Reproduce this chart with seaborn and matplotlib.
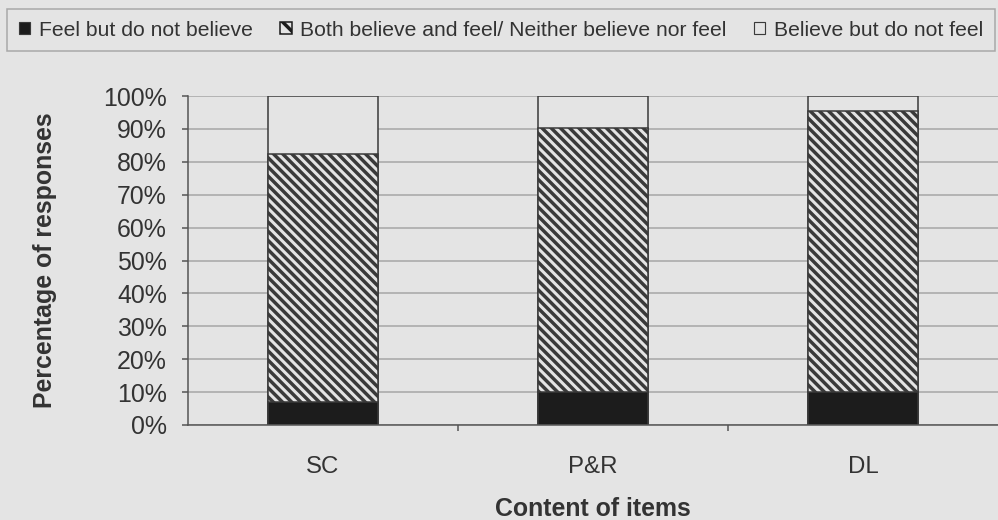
"""Stacked 100% bars: belief vs feeling responses per item content."""

import matplotlib

matplotlib.use("Agg")
import matplotlib.pyplot as plt
import pandas as pd
import seaborn as sns
from matplotlib.patches import Patch
from matplotlib.ticker import FixedLocator, FuncFormatter

CATEGORIES = ["SC", "P&R", "DL"]
FEEL_NOT_BELIEVE = [7.0, 10.0, 10.0]
BOTH_OR_NEITHER = [75.5, 80.3, 85.5]
BELIEVE_NOT_FEEL = [17.5, 9.7, 4.5]
SERIES_LABELS = [
    "Feel but do not believe",
    "Both believe and feel/ Neither believe nor feel",
    "Believe but do not feel",
]

BG = "#e4e4e4"
DARK = "#1c1c1c"
EDGE = "#3a3a3a"
DPI = 138
HATCH = "\\" * 5  # dense back-diagonal, close to the original's spacing

sns.set_style(
    "whitegrid",
    rc={
        "axes.facecolor": BG,
        "figure.facecolor": BG,
        "grid.color": "#a6a6a6",
        "grid.linewidth": 0.7,
        "axes.edgecolor": "#555555",
    },
)
plt.rcParams["font.family"] = ["Liberation Sans", "DejaVu Sans"]
plt.rcParams["hatch.linewidth"] = 1.8
plt.rcParams["hatch.color"] = DARK

df = pd.DataFrame(
    {
        "content": CATEGORIES,
        "feel": FEEL_NOT_BELIEVE,
        "both": BOTH_OR_NEITHER,
        "believe": BELIEVE_NOT_FEEL,
    }
)
# draw cumulative totals back to front so each layer hides the one behind
df["cum_both"] = df["feel"] + df["both"]
df["cum_all"] = df["cum_both"] + df["believe"]

fig, ax = plt.subplots(figsize=(998 / DPI, 520 / DPI), dpi=DPI)
fig.subplots_adjust(left=188 / 998, right=1.0, bottom=1 - 425 / 520, top=1 - 96 / 520)

bar_kw = dict(order=CATEGORIES, width=0.41, edgecolor=EDGE, linewidth=0.8, ax=ax)
sns.barplot(data=df, x="content", y="cum_all", color=BG, saturation=1, **bar_kw)
sns.barplot(data=df, x="content", y="cum_both", color=BG, saturation=1, hatch=HATCH, **bar_kw)
sns.barplot(data=df, x="content", y="feel", color=DARK, saturation=1, **bar_kw)

ax.set_ylim(0, 100)
ax.set_xlim(-0.5, len(CATEGORIES) - 0.5)
ax.yaxis.set_major_locator(FixedLocator(range(0, 101, 10)))
ax.yaxis.set_major_formatter(FuncFormatter(lambda v, _: f"{v:.0f}%"))
ax.grid(axis="x", visible=False)
ax.set_axisbelow(True)
for side in ("top", "right"):
    ax.spines[side].set_visible(False)
ax.spines["left"].set_linewidth(0.8)
ax.spines["bottom"].set_linewidth(0.8)

ax.tick_params(axis="y", which="major", direction="out", length=3, width=0.8,
               pad=8, labelsize=13, labelcolor="#333333", color="#555555", left=True)
ax.tick_params(axis="x", which="major", length=0, pad=16, labelsize=12.5,
               labelcolor="#333333")
ax.xaxis.set_minor_locator(FixedLocator([0.5, 1.5]))
ax.tick_params(axis="x", which="minor", direction="out", length=3, width=0.8,
               color="#555555", bottom=True)

ax.set_xlabel("Content of items", fontsize=13, fontweight="bold", color="#333333")
ax.set_ylabel("Percentage of responses", fontsize=13, fontweight="bold", color="#333333")
ax.xaxis.set_label_coords(0.5, (425 - 497) / 329)
ax.yaxis.set_label_coords((57 - 188) / 810, 0.5)

handles = [
    Patch(facecolor=DARK, edgecolor=EDGE, linewidth=0.6),
    Patch(facecolor=BG, edgecolor=DARK, linewidth=0.8, hatch="\\\\\\"),
    Patch(facecolor=BG, edgecolor=EDGE, linewidth=0.6),
]
leg = fig.legend(
    handles,
    SERIES_LABELS,
    loc="upper left",
    bbox_to_anchor=(7 / 998, 1 - 9 / 520),
    ncol=3,
    fontsize=11,
    frameon=True,
    fancybox=False,
    borderaxespad=0,
    borderpad=0.55,
    handlelength=0.55,
    handleheight=0.55,
    handletextpad=0.4,
    columnspacing=1.3,
)
leg.get_frame().set_facecolor(BG)
leg.get_frame().set_edgecolor("#9a9a9a")
leg.get_frame().set_linewidth(0.8)
for t in leg.get_texts():
    t.set_color("#333333")

fig.savefig("out.png", dpi=DPI, facecolor=BG)
